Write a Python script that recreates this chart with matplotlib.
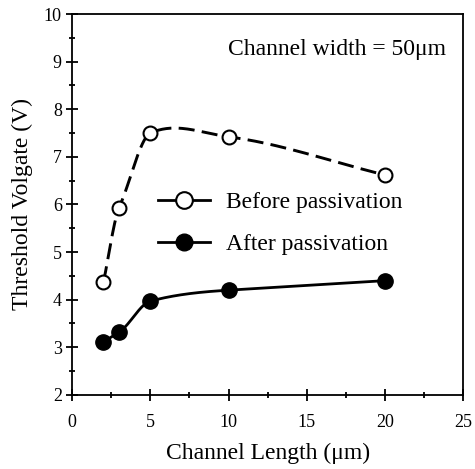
import matplotlib
matplotlib.use('Agg')
import matplotlib.pyplot as plt
import numpy as np

plt.rcParams['font.family'] = ['Liberation Serif', 'DejaVu Serif']

# Data
length = [2, 3, 5, 10, 20]
before = [4.37, 5.93, 7.50, 7.42, 6.62]
after = [3.11, 3.32, 3.97, 4.20, 4.40]


def smooth(x, y, tension=0.3, n=60):
    # cardinal (Catmull-Rom type) curve through the points, for the drawn line only
    x = np.asarray(x, float)
    y = np.asarray(y, float)
    k = len(x)
    m = np.zeros(k)
    m[0] = (y[1] - y[0]) / (x[1] - x[0])
    m[-1] = (y[-1] - y[-2]) / (x[-1] - x[-2])
    for i in range(1, k - 1):
        m[i] = (1 - tension) * (y[i + 1] - y[i - 1]) / (x[i + 1] - x[i - 1])
    xs_all, ys_all = [], []
    for i in range(k - 1):
        h = x[i + 1] - x[i]
        t = np.linspace(0, 1, n)
        h00 = 2 * t**3 - 3 * t**2 + 1
        h10 = t**3 - 2 * t**2 + t
        h01 = -2 * t**3 + 3 * t**2
        h11 = t**3 - t**2
        xs_all.append(x[i] + t * h)
        ys_all.append(h00 * y[i] + h10 * h * m[i] + h01 * y[i + 1] + h11 * h * m[i + 1])
    return np.concatenate(xs_all), np.concatenate(ys_all)


fig = plt.figure(figsize=(4.75, 4.69), dpi=100)
ax = fig.add_axes([0.152, 0.158, 0.823, 0.812])

xs, ys = smooth(length, before)
ax.plot(xs, ys, color='black', lw=2.1, dashes=(5.5, 2.5))
ax.plot(length, before, 'o', color='black', mfc='white', ms=10, mew=1.5)

xs, ys = smooth(length, after)
ax.plot(xs, ys, color='black', lw=2)
ax.plot(length, after, 'o', color='black', ms=11)

# legend handles
h1, = ax.plot([], [], '-o', color='black', mfc='white', ms=12, mew=1.5, lw=2)
h2, = ax.plot([], [], '-o', color='black', ms=12, lw=2)
ax.legend([h1, h2], ['Before passivation', 'After passivation'],
          loc='center left', bbox_to_anchor=(0.165, 0.45), frameon=False,
          fontsize=17, handlelength=2.2, handletextpad=0.7, labelspacing=0.85)

ax.text(0.955, 0.907, 'Channel width = 50\u03bcm', transform=ax.transAxes,
        ha='right', va='center', fontsize=17)

ax.set_xlim(0, 25)
ax.set_ylim(2, 10)
ax.set_xticks(range(0, 26, 5))
ax.set_xticks(np.arange(2.5, 25, 5), minor=True)
ax.set_yticks(range(2, 11))
ax.set_yticks(np.arange(2.5, 10, 1), minor=True)
ax.tick_params(which='major', direction='inout', length=8, width=1.3, labelsize=13)
ax.tick_params(which='minor', direction='inout', length=5, width=1.3)
ax.tick_params(axis='x', pad=10)
for s in ax.spines.values():
    s.set_linewidth(1.3)

ax.set_xlabel('Channel Length (\u03bcm)', fontsize=17, labelpad=8)
ax.set_ylabel('Threshold Volgate (V)', fontsize=17, labelpad=8)

plt.savefig('out.png', dpi=100)
plt.close()
